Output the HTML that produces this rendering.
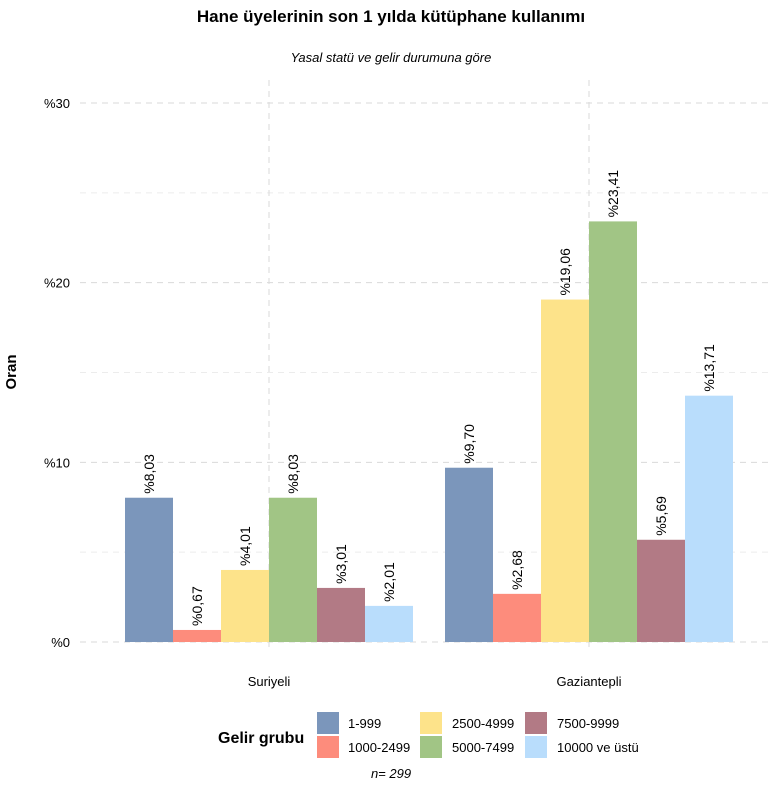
<!DOCTYPE html>
<html><head><meta charset="utf-8"><style>
body{margin:0;background:#fff;font-family:"Liberation Sans",sans-serif}
</style></head><body>
<svg id="c" width="783" height="783" xmlns="http://www.w3.org/2000/svg">
<text x="391" y="22" text-anchor="middle" font-size="17" font-weight="bold">Hane üyelerinin son 1 yılda kütüphane kullanımı</text>
<text x="391" y="62" text-anchor="middle" font-size="13" font-style="italic">Yasal statü ve gelir durumuna göre</text>
<text transform="translate(16,372) rotate(-90)" text-anchor="middle" font-size="15" font-weight="bold">Oran</text>
<g id="grid"></g><g id="bars"></g>
<text x="218" y="743" font-size="16" font-weight="bold">Gelir grubu</text>
<g id="legend"></g>
<text x="391" y="778" text-anchor="middle" font-size="13" font-style="italic">n=  299</text>
</svg>
<script>
const groups=["Suriyeli","Gaziantepli"];
const seriesNames=["1-999","1000-2499","2500-4999","5000-7499","7500-9999","10000 ve üstü"];
const suriyeli=[8.03,0.67,4.01,8.03,3.01,2.01];
const gaziantepli=[9.70,2.68,19.06,23.41,5.69,13.71];
const yTicks=[0,10,20,30];
const colors=["#7b96bb","#fd8c7c","#fde38a","#a1c585","#b27a85","#b9ddfc"];
const NS="http://www.w3.org/2000/svg";
const y=v=>642-v*(539/30);
const gx=[269,589], bw=48;
function el(t,a,p){const e=document.createElementNS(NS,t);for(const k in a)e.setAttribute(k,a[k]);p.appendChild(e);return e;}
const grid=document.getElementById('grid'),bars=document.getElementById('bars'),leg=document.getElementById('legend');
[5,15,25].forEach(v=>{const l=el('line',{x1:80,x2:770,y1:y(v),y2:y(v),stroke:'#ececec','stroke-dasharray':'6,5'},grid);

});
yTicks.forEach(v=>{const l=el('line',{x1:80,x2:770,y1:y(v),y2:y(v),stroke:'#dadada','stroke-dasharray':'6,5'},grid);


const t=el('text',{x:70,y:y(v)+5,'text-anchor':'end','font-size':13},grid);t.textContent='%'+v;

});
groups.forEach((g,i)=>{const l=el('line',{x1:gx[i],x2:gx[i],y1:80,y2:650,stroke:'#dadada','stroke-dasharray':'6,5'},grid);


const t=el('text',{x:gx[i],y:686,'text-anchor':'middle','font-size':13},grid);t.textContent=g;


const vals=i==0?suriyeli:gaziantepli;
vals.forEach((v,j)=>{const x=gx[i]-3*bw+j*bw;
const r=el('rect',{x:x,y:y(v),width:bw,height:642-y(v),fill:colors[j]},bars);


const t=el('text',{transform:`translate(${x+bw/2+5},${y(v)-4}) rotate(-90)`,'font-size':14},bars);
t.textContent='%'+v.toFixed(2).replace('.',',');

});});
const lx=[317,420,525],tx=[348,452,557];
seriesNames.forEach((s,j)=>{const c=Math.floor(j/2),r=j%2;
const k=el('rect',{x:lx[c],y:712+r*24,width:22,height:22,fill:colors[j]},leg);


const t=el('text',{x:tx[c],y:728+r*24,'font-size':13},leg);t.textContent=s;

});
</script>
</body></html>
